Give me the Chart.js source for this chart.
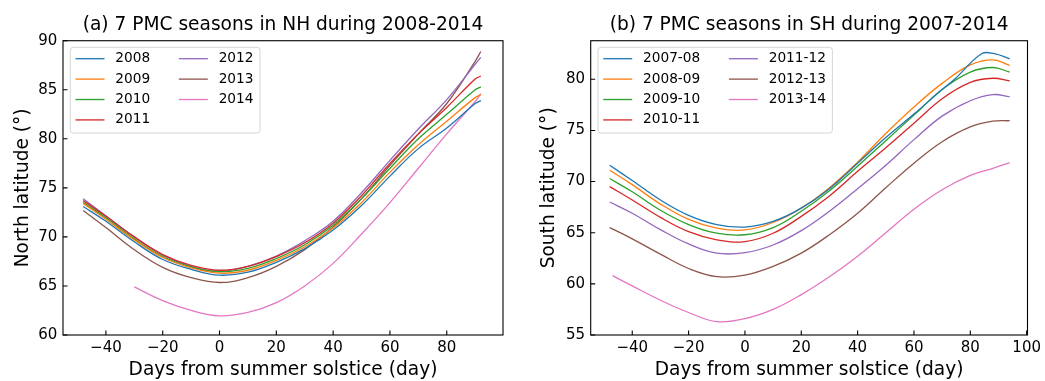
<!DOCTYPE html>
<html lang="en">
<head>
    <meta charset="UTF-8">
    <script src="https://cdn.jsdelivr.net/npm/chart.js"></script>
    <title>PMC seasons</title>
    <style>
        * {
            margin: 0;
            padding: 0;
            box-sizing: border-box;
        }
        body {
            background: #fff;
            width: 1045px;
            height: 381px;
            overflow: hidden;
        }
        #nh { position: absolute; left: 0; top: 0; }
        #sh { position: absolute; left: 520px; top: 0; }
    </style>
</head>
<body>
    <canvas id="nh" width="520" height="381"></canvas>
    <canvas id="sh" width="525" height="381"></canvas>
<script>
    // tab10 colours, one per season
    const colors = ['#1f77b4', '#ff7f0e', '#2ca02c', '#d62728', '#9467bd', '#8c564b', '#e377c2'];

    // ---- (a) northern hemisphere ----
    const nhLabels = ['2008', '2009', '2010', '2011', '2012', '2013', '2014'];
    const nhDays = [-48, -40, -30, -20, -10, 0, 10, 20, 30, 40, 50, 60, 70, 80, 90, 92];
    const nhDays2014 = [-30, -20, -10, 0, 10, 20, 30, 40, 50, 60, 70, 80, 90, 92];
    const nh2008 = [73.1, 71.6, 69.5, 67.7, 66.7, 66.1, 66.4, 67.4, 68.8, 70.7, 73.2, 76.2, 79.0, 81.1, 83.6, 83.9];
    const nh2009 = [73.4, 71.8, 69.7, 67.9, 66.85, 66.3, 66.6, 67.6, 69.0, 70.9, 73.5, 76.6, 79.4, 81.8, 84.2, 84.5];
    const nh2010 = [73.5, 71.95, 69.8, 68.0, 66.95, 66.45, 66.8, 67.8, 69.2, 71.2, 73.9, 77.0, 80.0, 82.5, 85.0, 85.3];
    const nh2011 = [73.7, 72.1, 70.0, 68.2, 67.1, 66.6, 67.0, 68.0, 69.4, 71.4, 74.2, 77.5, 80.5, 83.2, 86.1, 86.4];
    const nh2012 = [73.9, 72.15, 70.0, 68.15, 67.0, 66.5, 67.0, 68.05, 69.6, 71.6, 74.5, 77.8, 81.0, 84.0, 87.6, 88.3];
    const nh2013 = [72.7, 70.95, 68.7, 66.9, 65.85, 65.35, 65.85, 67.0, 68.7, 71.0, 73.9, 77.3, 80.5, 83.6, 87.9, 88.9];
    const nh2014 = [64.9, 63.5, 62.5, 61.95, 62.3, 63.3, 65.0, 67.3, 70.3, 73.5, 77.0, 80.5, 83.8, 84.6];
    const nhXTicks = [-40, -20, 0, 20, 40, 60, 80];
    const nhYTicks = [60, 65, 70, 75, 80, 85, 90];

    // ---- (b) southern hemisphere ----
    const shLabels = ['2007-08', '2008-09', '2009-10', '2010-11', '2011-12', '2012-13', '2013-14'];
    const shDays = [-48, -40, -30, -20, -10, 0, 10, 20, 30, 40, 50, 60, 70, 80, 88, 94];
    const shDays0708 = [-48, -40, -30, -20, -10, 0, 10, 20, 30, 40, 50, 60, 70, 74.4, 84, 88.5, 94];
    const shDays1314 = [-47, -40, -30, -20, -10, 0, 10, 20, 30, 40, 50, 60, 70, 80, 88, 94];
    const sh0708 = [71.6, 70.1, 68.2, 66.7, 65.8, 65.55, 66.1, 67.4, 69.3, 71.8, 74.3, 76.6, 79.0, 80.0, 82.5, 82.5, 82.0];
    const sh0809 = [71.1, 69.7, 67.8, 66.3, 65.45, 65.27, 66.0, 67.4, 69.4, 71.9, 74.7, 77.3, 79.6, 81.4, 81.9, 81.35];
    const sh0910 = [70.3, 69.0, 67.2, 65.8, 64.95, 64.8, 65.5, 67.1, 69.1, 71.5, 74.0, 76.5, 79.0, 80.7, 81.15, 80.7];
    const sh1011 = [69.5, 68.2, 66.5, 65.1, 64.3, 64.13, 64.95, 66.6, 68.6, 71.0, 73.3, 75.7, 78.1, 79.7, 80.1, 79.85];
    const sh1112 = [68.0, 66.9, 65.3, 63.9, 63.0, 63.05, 63.8, 65.2, 67.1, 69.3, 71.6, 74.1, 76.4, 77.9, 78.5, 78.3];
    const sh1213 = [65.5, 64.4, 62.9, 61.5, 60.7, 60.85, 61.7, 63.0, 64.8, 66.9, 69.4, 71.8, 73.9, 75.35, 75.9, 75.95];
    const sh1314 = [60.8, 59.8, 58.4, 57.2, 56.3, 56.6, 57.5, 58.95, 60.7, 62.7, 65.0, 67.3, 69.2, 70.6, 71.3, 71.85];
    const shXTicks = [-40, -20, 0, 20, 40, 60, 80, 100];
    const shYTicks = [55, 60, 65, 70, 75, 80];

    const FONT = '"DejaVu Sans", sans-serif';
    Chart.defaults.font.family = FONT;
    Chart.defaults.color = '#000';

    const toPoints = (days, vals) => days.map((d, i) => ({ x: d, y: vals[i] }));
    const minus = v => (v < 0 ? '\u2212' + Math.abs(v) : String(v));

    const makeSets = (labels, series) => series.map((s, i) => ({
        label: labels[i],
        data: toPoints(s[0], s[1]),
        borderColor: colors[i],
        backgroundColor: colors[i],
        borderWidth: 1.3,
        pointRadius: 0,
        fill: false,
        tension: 0.4
    }));

    // frame on all four sides + inward ticks on left and bottom
    const frameTicks = {
        id: 'frameTicks',
        afterDatasetsDraw(chart) {
            const { ctx, chartArea: a, scales } = chart;
            ctx.save();
            ctx.strokeStyle = '#000';
            ctx.lineWidth = 1.1;
            ctx.beginPath();
            scales.x.ticks.forEach(t => {
                const px = scales.x.getPixelForValue(t.value);
                ctx.moveTo(px, a.bottom);
                ctx.lineTo(px, a.bottom - 4.5);
            });
            scales.y.ticks.forEach(t => {
                const py = scales.y.getPixelForValue(t.value);
                ctx.moveTo(a.left, py);
                ctx.lineTo(a.left + 4.5, py);
            });
            ctx.stroke();
            ctx.strokeRect(a.left, a.top, a.right - a.left, a.bottom - a.top);
            ctx.restore();
        }
    };

    // two-column legend in the upper left corner of the plot
    const boxLegend = {
        id: 'boxLegend',
        afterDraw(chart) {
            const { ctx, chartArea: a } = chart;
            const sets = chart.data.datasets;
            ctx.save();
            ctx.font = '13.7px ' + FONT;
            const rows = Math.ceil(sets.length / 2);
            const col1 = sets.slice(0, rows);
            const col2 = sets.slice(rows);
            const w1 = Math.max(...col1.map(d => ctx.measureText(d.label).width));
            const w2 = Math.max(...col2.map(d => ctx.measureText(d.label).width));
            const handle = 29, gap = 10.8, colGap = 28.7;
            const x0 = a.left + 7.3, y0 = a.top + 6.6;
            const c1 = x0 + 5.2;
            const c2 = c1 + handle + gap + w1 + colGap;
            const bw = c2 + handle + gap + w2 + 6.5 - x0;
            const bh = 85.7;

            ctx.beginPath();
            ctx.roundRect(x0, y0, bw, bh, 3);
            ctx.fillStyle = 'rgba(255,255,255,0.8)';
            ctx.fill();
            ctx.strokeStyle = 'rgba(204,204,204,0.8)';
            ctx.lineWidth = 1;
            ctx.stroke();

            ctx.textBaseline = 'middle';
            ctx.textAlign = 'left';
            sets.forEach((d, i) => {
                const col = i < rows ? 0 : 1;
                const row = i < rows ? i : i - rows;
                const hx = col === 0 ? c1 : c2;
                const y = y0 + 11.4 + row * 20.4;
                ctx.strokeStyle = d.borderColor;
                ctx.lineWidth = 1.3;
                ctx.beginPath();
                ctx.moveTo(hx, y);
                ctx.lineTo(hx + handle, y);
                ctx.stroke();
                ctx.fillStyle = '#000';
                ctx.fillText(d.label, hx + handle + gap, y);
            });
            ctx.restore();
        }
    };

    const makeChart = (id, datasets, o) => new Chart(document.getElementById(id), {
        type: 'line',
        data: { datasets },
        options: {
            responsive: false,
            animation: false,
            events: [],
            layout: { padding: { left: 0, right: o.padRight, top: 0, bottom: 0 } },
            plugins: {
                legend: { display: false },
                tooltip: { enabled: false },
                title: {
                    display: true,
                    text: o.title,
                    fullSize: false,
                    color: '#000',
                    font: { family: FONT, size: 18.6, weight: 'normal' },
                    padding: { top: 13.8, bottom: 4.6 }
                }
            },
            scales: {
                x: {
                    type: 'linear',
                    min: o.xMin,
                    max: o.xMax,
                    afterFit: s => { s.height = 46; },
                    afterBuildTicks: s => { s.ticks = o.xTicks.map(v => ({ value: v })); },
                    grid: { display: false, drawTicks: false },
                    border: { display: false },
                    ticks: {
                        autoSkip: false,
                        maxRotation: 0,
                        padding: 4,
                        font: { family: FONT, size: 15 },
                        callback: v => minus(v)
                    },
                    title: {
                        display: true,
                        text: 'Days from summer solstice (day)',
                        font: { family: FONT, size: 18.6 },
                        padding: { top: 0, bottom: 0 }
                    }
                },
                y: {
                    type: 'linear',
                    min: o.yMin,
                    max: o.yMax,
                    afterFit: s => { s.width = o.axisWidth; },
                    afterBuildTicks: s => { s.ticks = o.yTicks.map(v => ({ value: v })); },
                    grid: { display: false, drawTicks: false },
                    border: { display: false },
                    ticks: {
                        autoSkip: false,
                        padding: 5.7,
                        font: { family: FONT, size: 15 },
                        callback: v => minus(v)
                    },
                    title: {
                        display: true,
                        text: o.yTitle,
                        font: { family: FONT, size: 18.6 },
                        padding: { top: o.yTitlePad, bottom: 0 }
                    }
                }
            }
        },
        plugins: [frameTicks, boxLegend]
    });

    makeChart('nh', makeSets(nhLabels, [
        [nhDays, nh2008], [nhDays, nh2009], [nhDays, nh2010], [nhDays, nh2011],
        [nhDays, nh2012], [nhDays, nh2013], [nhDays2014, nh2014]
    ]), {
        title: '(a) 7 PMC seasons in NH during 2008-2014',
        yTitle: 'North latitude (\u00b0)',
        xMin: -55.1, xMax: 99.8, yMin: 60, yMax: 90,
        xTicks: nhXTicks, yTicks: nhYTicks,
        axisWidth: 63, padRight: 17, yTitlePad: 11.7
    });

    makeChart('sh', makeSets(shLabels, [
        [shDays0708, sh0708], [shDays, sh0809], [shDays, sh0910], [shDays, sh1011],
        [shDays, sh1112], [shDays, sh1213], [shDays1314, sh1314]
    ]), {
        title: '(b) 7 PMC seasons in SH during 2007-2014',
        yTitle: 'South latitude (\u00b0)',
        xMin: -54.75, xMax: 100.3, yMin: 55, yMax: 83.77,
        xTicks: shXTicks, yTicks: shYTicks,
        axisWidth: 70.7, padRight: 16.7, yTitlePad: 18.3
    });
</script>
</body>
</html>
